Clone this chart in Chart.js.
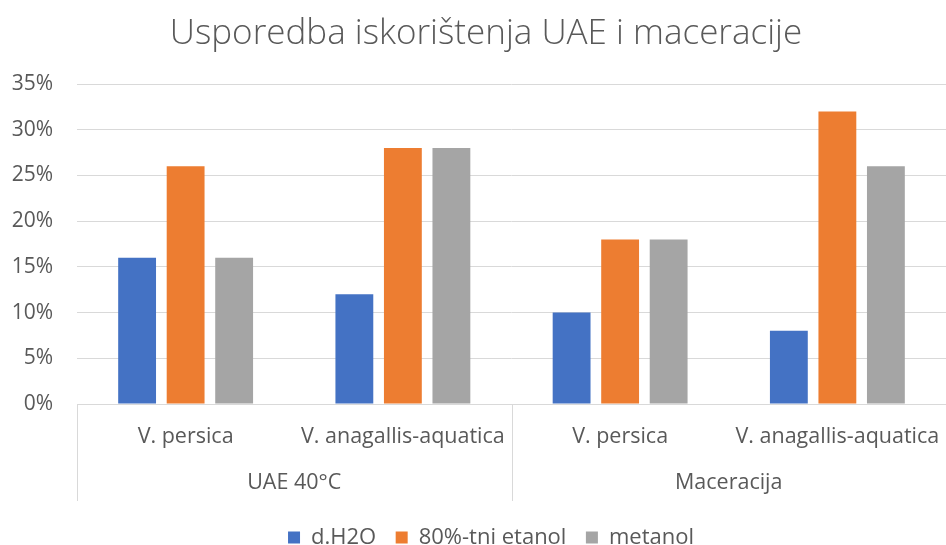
<!DOCTYPE html>
<html>
<head>
<meta charset="utf-8">
<script src="https://cdn.jsdelivr.net/npm/chart.js@4.4.1/dist/chart.umd.min.js"></script>
<style>
html,body{margin:0;padding:0;background:#fff;}
#wrap{width:946px;height:545px;position:relative;}
</style>
</head>
<body>
<div id="wrap"><canvas id="c" width="946" height="545"></canvas></div>
<script>
const groups = ["UAE 40°C", "Maceracija"];
const categories = ["V. persica", "V. anagallis-aquatica", "V. persica", "V. anagallis-aquatica"];
const seriesNames = ["d.H2O", "80%-tni etanol", "metanol"];
const dH2O = [16, 12, 10, 8];
const etanol80 = [26, 28, 18, 32];
const metanol = [16, 28, 18, 26];
const yTicks = [0, 5, 10, 15, 20, 25, 30, 35];

const colors = ["#4472C4", "#ED7D31", "#A5A5A5"];
const textColor = "#595959";
const gridColor = "#D9D9D9";
const FONT = "'Open Sans'";
const FS = 21;

const separators = {
  id: 'separators',
  afterLayout(chart) {
    // Excel places title and legend slightly right of the canvas centre
    if (chart.titleBlock) chart.titleBlock.left += 26;
    if (chart.legend) chart.legend.left += 36;
  },
  afterDraw(chart) {
    const ctx = chart.ctx;
    const x = chart.scales.x;
    const x2 = chart.scales.x2;
    const top = chart.chartArea.bottom;
    const bottom = x2.top + 41;
    const n = categories.length;
    const xs = [x.left, (x.getPixelForValue(n/2 - 1) + x.getPixelForValue(n/2)) / 2, x.right];
    ctx.save();
    ctx.strokeStyle = gridColor;
    ctx.lineWidth = 1;
    xs.forEach(px => {
      const p = Math.round(px) + 0.5;
      ctx.beginPath();
      ctx.moveTo(p, top);
      ctx.lineTo(p, bottom);
      ctx.stroke();
    });
    ctx.restore();
  }
};

function noSidePad(scale) {
  scale.paddingLeft = 0;
  scale.paddingRight = 0;
}

new Chart(document.getElementById('c'), {
  type: 'bar',
  data: {
    labels: categories,
    datasets: [
      { label: seriesNames[0], data: dH2O, backgroundColor: colors[0] },
      { label: seriesNames[1], data: etanol80, backgroundColor: colors[1] },
      { label: seriesNames[2], data: metanol, backgroundColor: colors[2] }
    ]
  },
  options: {
    responsive: false,
    animation: false,
    layout: { padding: { left: 0, right: 0, top: 0, bottom: -13.5 } },
    datasets: { bar: { categoryPercentage: 0.67, barPercentage: 0.78 } },
    plugins: {
      title: {
        display: true,
        text: "Usporedba iskorištenja UAE i maceracije",
        color: textColor,
        font: { family: FONT, size: 35, weight: '300' },
        padding: { top: 13, bottom: 29 }
      },
      legend: {
        position: 'bottom',
        labels: {
          color: textColor,
          font: { family: FONT, size: 22 },
          boxWidth: 12,
          boxHeight: 12,
          padding: 19.5
        }
      },
      tooltip: { enabled: false }
    },
    scales: {
      y: {
        min: 0,
        max: 35,
        afterBuildTicks(scale) { scale.ticks = yTicks.map(v => ({ value: v })); },
        afterFit(scale) { scale.width = 77; },
        ticks: {
          color: textColor,
          font: { family: FONT, size: FS },
          padding: 24,
          callback: v => v + '%'
        },
        grid: { color: gridColor, drawTicks: false },
        border: { display: false }
      },
      x: {
        afterFit(scale) { scale.height = 56; noSidePad(scale); },
        ticks: {
          color: textColor,
          font: { family: FONT, size: 21.5 },
          padding: 20,
          maxRotation: 0,
          autoSkip: false
        },
        grid: { display: false, drawTicks: false },
        border: { display: true, color: gridColor }
      },
      x2: {
        type: 'category',
        position: 'bottom',
        labels: groups,
        offset: true,
        afterFit(scale) { scale.height = 47; noSidePad(scale); },
        ticks: {
          color: textColor,
          font: { family: FONT, size: 21.5 },
          padding: 10,
          maxRotation: 0,
          autoSkip: false
        },
        grid: { display: false, drawTicks: false },
        border: { display: false }
      }
    }
  },
  plugins: [separators]
});
</script>
</body>
</html>
